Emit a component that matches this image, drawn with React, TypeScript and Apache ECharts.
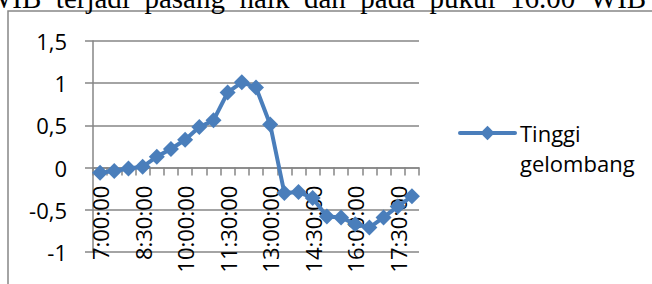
import { useEffect, useRef } from 'react';
import * as echarts from 'echarts';

const times = [
  '7:00:00', '7:30:00', '8:00:00', '8:30:00', '9:00:00', '9:30:00',
  '10:00:00', '10:30:00', '11:00:00', '11:30:00', '12:00:00', '12:30:00',
  '13:00:00', '13:30:00', '14:00:00', '14:30:00', '15:00:00', '15:30:00',
  '16:00:00', '16:30:00', '17:00:00', '17:30:00', '18:00:00',
];
const waveHeight = [
  -0.06, -0.04, -0.01, 0.01, 0.13, 0.22,
  0.33, 0.48, 0.56, 0.89, 1.01, 0.95,
  0.51, -0.3, -0.29, -0.36, -0.58, -0.59,
  -0.67, -0.71, -0.59, -0.46, -0.34,
];
const yMin = -1;
const yMax = 1.5;
const yStep = 0.5;
const seriesName = 'Tinggi\ngelombang';
const headerWords = ['WIB', 'terjadi', 'pasang', 'naik', 'dan', 'pada', 'pukul', '16.00', 'WIB'];

const GRAY = '#868686';
const BLUE = '#4A7EBB';
const FONT = 'Open Sans';
const W = 652;
const H = 284;
const GRID = { left: 93, top: 41, right: 233, bottom: 32 };

export default function App() {
  const ref = useRef<HTMLDivElement>(null);
  useEffect(() => {
    const chart = echarts.init(ref.current!, null, { renderer: 'svg' });
    const plotH = H - GRID.top - GRID.bottom;
    // move the category axis up to the value 0, as the original's axis crosses at 0
    const zeroOffset = -plotH * (0 - yMin) / (yMax - yMin);
    chart.setOption({
      animation: false,
      textStyle: { fontFamily: FONT },
      grid: { ...GRID, outerBoundsMode: 'none' },
      xAxis: {
        type: 'category',
        data: times,
        boundaryGap: true,
        offset: zeroOffset,
        axisLine: { onZero: false, lineStyle: { color: GRAY, width: 1.5 } },
        axisTick: { show: true, interval: 0, length: 8, lineStyle: { color: GRAY, width: 1.5 } },
        axisLabel: { interval: 2, rotate: 90, margin: 18, fontSize: 22, color: '#000', fontFamily: FONT },
        splitLine: { show: false },
      },
      yAxis: {
        type: 'value',
        min: yMin,
        max: yMax,
        interval: yStep,
        axisLine: { show: true, lineStyle: { color: GRAY, width: 1.5 } },
        axisTick: { show: true, length: 8, lineStyle: { color: GRAY, width: 1.5 } },
        axisLabel: {
          margin: 26,
          fontSize: 22,
          color: '#000',
          fontFamily: FONT,
          formatter: (v: number) => String(v).replace('.', ','),
        },
        splitLine: { show: true, lineStyle: { color: GRAY, width: 1.5 } },
      },
      legend: {
        left: 458,
        top: 88,
        padding: 0,
        orient: 'vertical',
        itemWidth: 55,
        itemHeight: 18,
        formatter: (name: string) => ' \n' + name,
        textStyle: { fontSize: 22, color: '#000', lineHeight: 30, fontFamily: FONT },
        lineStyle: { width: 4, color: BLUE, cap: 'round' },
        data: [seriesName],
      },
      series: [
        {
          type: 'line',
          name: seriesName,
          data: waveHeight,
          symbol: 'diamond',
          symbolSize: 16,
          showSymbol: true,
          showAllSymbol: true,
          z: 5,
          lineStyle: { color: BLUE, width: 4 },
          itemStyle: { color: BLUE },
        },
      ],
      graphic: [
        {
          type: 'rect',
          silent: true,
          shape: { x: 8, y: 11, width: 720, height: 320 },
          style: { fill: 'none', stroke: GRAY, lineWidth: 1.5 },
        },
        {
          type: 'text',
          silent: true,
          x: -15,
          y: -2,
          style: {
            text: headerWords.join('{s| }'),
            fontFamily: 'Liberation Serif',
            fontSize: 29,
            fill: '#000',
            verticalAlign: 'middle',
            rich: { s: { width: 14.5, fontSize: 29, fontFamily: 'Liberation Serif' } },
          },
        },
      ],
    });
    return () => chart.dispose();
  }, []);
  return <div ref={ref} style={{ position: 'absolute', left: 0, top: 0, width: W, height: H }} />;
}
